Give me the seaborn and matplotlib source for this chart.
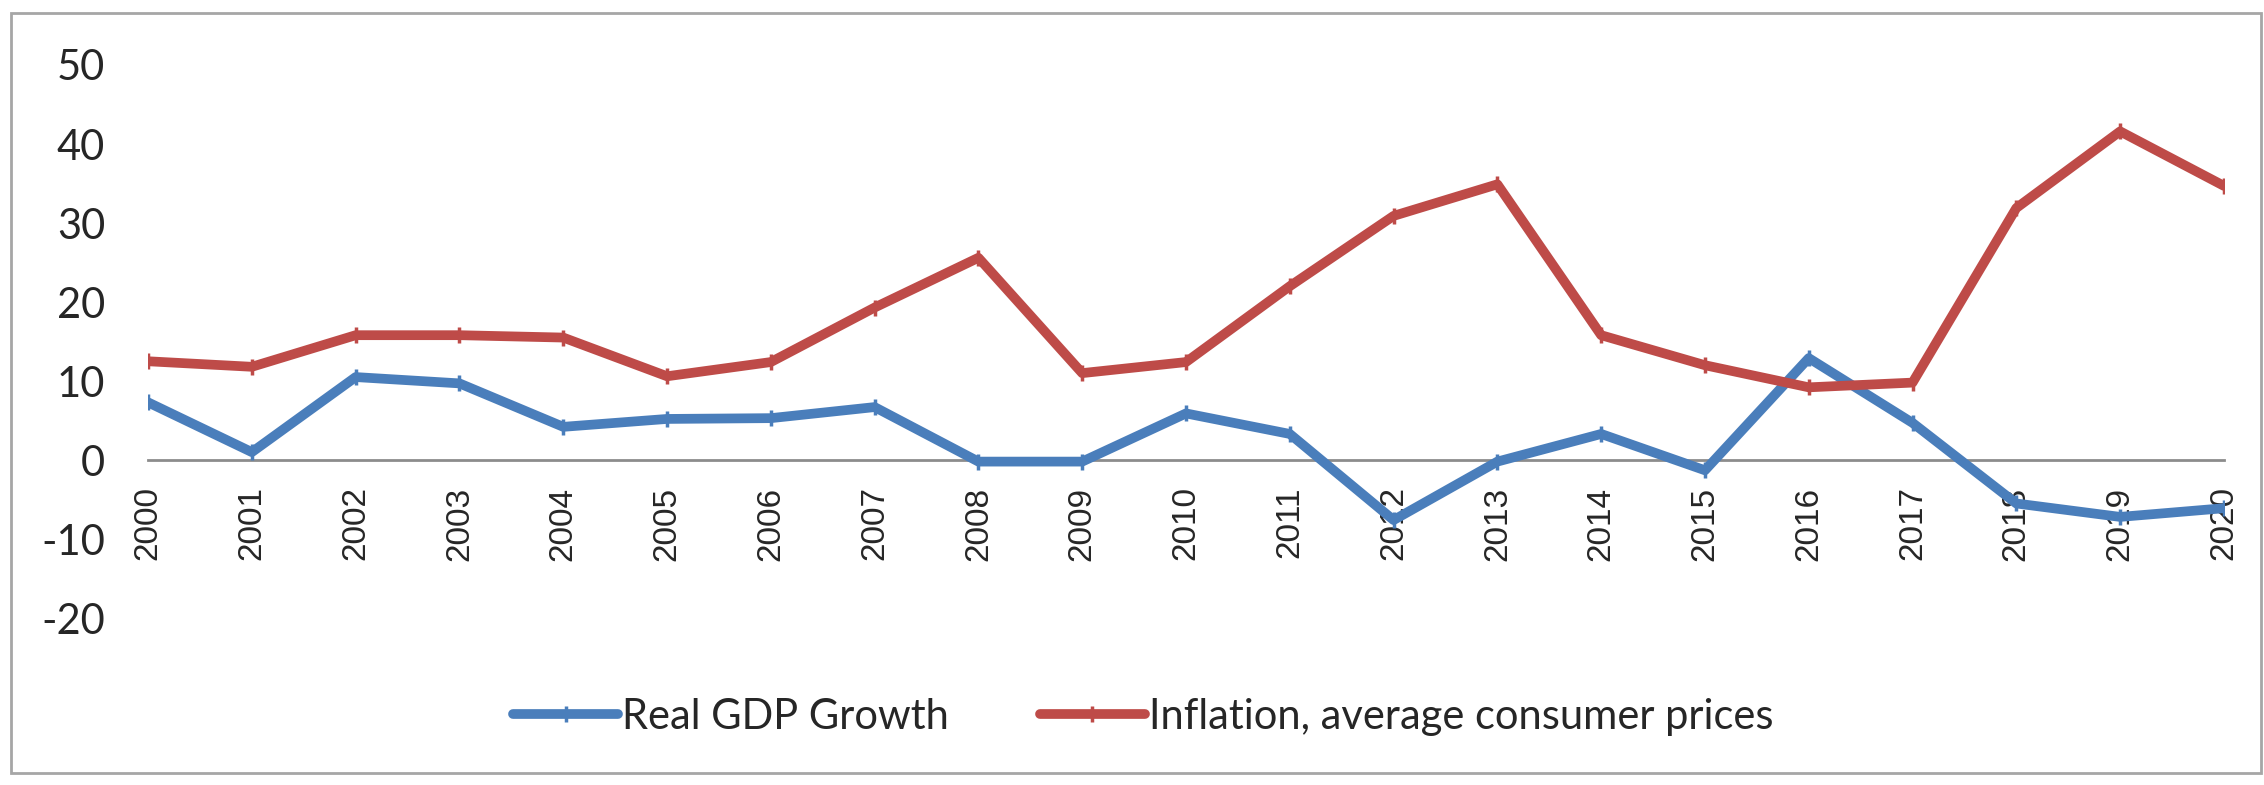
import numpy as np
import pandas as pd
import matplotlib
matplotlib.use('Agg')
import matplotlib.pyplot as plt
from matplotlib.patches import Rectangle
import seaborn as sns

# Data
years = list(range(2000, 2021))
gdp_growth = [7.3, 1.0, 10.5, 9.7, 4.2, 5.2, 5.3, 6.7, -0.2, -0.2, 5.9,
              3.3, -7.6, -0.2, 3.3, -1.3, 12.9, 4.7, -5.5, -7.2, -6.1]
inflation = [12.5, 11.8, 15.8, 15.8, 15.5, 10.6, 12.4, 19.3, 25.6, 11.0, 12.4,
             22.0, 30.9, 34.9, 15.8, 12.0, 9.2, 9.8, 31.9, 41.6, 34.7]
series_names = ['Real GDP Growth', 'Inflation, average consumer prices']
y_ticks = [-20, -10, 0, 10, 20, 30, 40, 50]

df = pd.DataFrame({'Year': years, series_names[0]: gdp_growth, series_names[1]: inflation})
long_df = df.melt(id_vars='Year', var_name='Series', value_name='Value')

sns.set_style('white')
plt.rcParams['font.family'] = ['Lato', 'DejaVu Sans']

fig = plt.figure(figsize=(22.64, 7.85), dpi=100)
ax = fig.add_axes([0.0654, 0.2127, 0.9169, 0.7045])

palette = {series_names[0]: '#4A7EBB', series_names[1]: '#BE4B48'}
sns.lineplot(data=long_df, x='Year', y='Value', hue='Series', palette=palette,
             linewidth=7, marker='|', markersize=12, markeredgewidth=2.5,
             ax=ax, legend=True)
# markers in the line colour (seaborn draws them with a white edge)
for line in ax.lines:
    line.set_markeredgecolor(line.get_color())

ax.set_xlim(years[0], years[-1])
ax.set_ylim(y_ticks[0], y_ticks[-1])
ax.set_xticks(years)
ax.set_xticklabels([str(y) for y in years])
ax.set_yticks(y_ticks)
ax.set_yticklabels([str(t) for t in y_ticks])
ax.tick_params(axis='x', length=0, pad=19, labelsize=24, labelrotation=90,
               labelfontfamily='Liberation Sans')
ax.tick_params(axis='y', length=0, pad=31, labelsize=30)
ax.set_xlabel('')
ax.set_ylabel('')

for side in ['top', 'right', 'left']:
    ax.spines[side].set_visible(False)
ax.spines['bottom'].set_position(('data', 0))
ax.spines['bottom'].set_color('#8C8C8C')
ax.spines['bottom'].set_linewidth(2)
ax.spines['bottom'].set_zorder(0)

handles, labels = ax.get_legend_handles_labels()
leg = ax.legend(handles, labels, loc='center', bbox_to_anchor=(0.505, 0.0866),
                bbox_transform=fig.transFigure, ncol=2, frameon=False, fontsize=30,
                handlelength=2.5, handletextpad=0.1, columnspacing=2.2)
for h in leg.legend_handles:
    h.set_markeredgecolor(h.get_color())

# outer chart border
fig.patches.append(Rectangle((11 / 2264, 12 / 785), 2250 / 2264, 760 / 785,
                             transform=fig.transFigure, fill=False,
                             edgecolor='#A6A6A6', linewidth=2))

fig.savefig('out.png', dpi=100, facecolor='white')
